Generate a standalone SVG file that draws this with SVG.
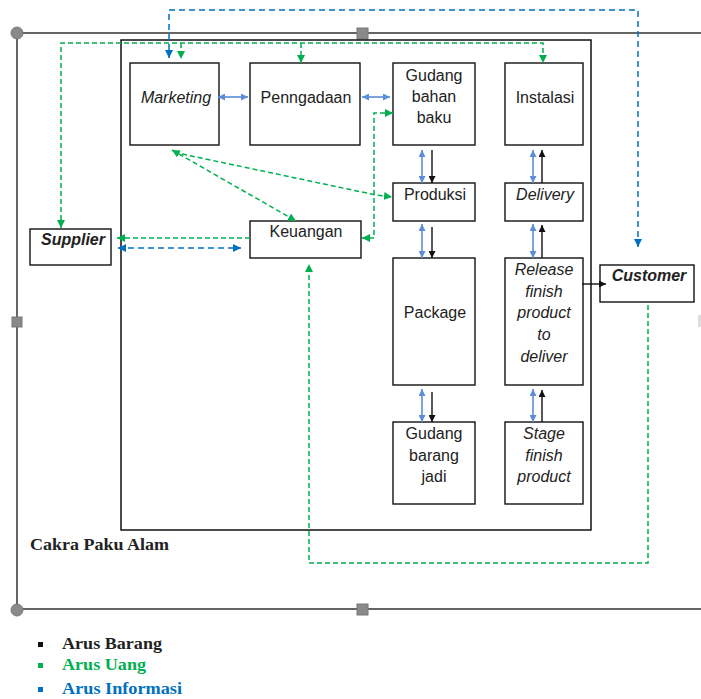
<svg xmlns="http://www.w3.org/2000/svg" width="701" height="699" viewBox="0 0 701 699">
<style>
.box{fill:#fff;stroke:#111;stroke-width:1.4}
.frame{fill:none;stroke:#333;stroke-width:1.5}
.t{font-family:"Liberation Sans",Arial,sans-serif;font-size:16px;fill:#222;text-anchor:middle}
.i{font-style:italic}
.b{font-weight:bold}
.g{fill:none;stroke:#00B050;stroke-width:1.5;stroke-dasharray:5 3}
.bd{fill:none;stroke:#0070C0;stroke-width:1.5;stroke-dasharray:6 4}
.lb{fill:none;stroke:#5B8ED6;stroke-width:1.6}
.k{fill:none;stroke:#111;stroke-width:1.4}
.leg{font-family:"Liberation Serif","Times New Roman",serif;font-size:17px;font-weight:bold}
.h{fill:#8a8a8a;stroke:#777;stroke-width:1}
</style>
<defs>
<marker id="mG" viewBox="0 0 10 10" refX="10" refY="5" markerUnits="userSpaceOnUse" markerWidth="8" markerHeight="8" orient="auto-start-reverse"><path d="M0,0 L10,5 L0,10 z" fill="#00B050"/></marker>
<marker id="mB" viewBox="0 0 10 10" refX="10" refY="5" markerUnits="userSpaceOnUse" markerWidth="8" markerHeight="8" orient="auto-start-reverse"><path d="M0,0 L10,5 L0,10 z" fill="#0070C0"/></marker>
<marker id="mL" viewBox="0 0 10 10" refX="10" refY="5" markerUnits="userSpaceOnUse" markerWidth="7" markerHeight="7" orient="auto-start-reverse"><path d="M0,0 L10,5 L0,10 z" fill="#5B8ED6"/></marker>
<marker id="mK" viewBox="0 0 10 10" refX="10" refY="5" markerUnits="userSpaceOnUse" markerWidth="7" markerHeight="7" orient="auto-start-reverse"><path d="M0,0 L10,5 L0,10 z" fill="#111"/></marker>
</defs>
<rect width="701" height="699" fill="#fff"/>
<g id="outer-frame">
<path class="frame" d="M701,33 H17 V609 H701"/>
<circle class="h" cx="17" cy="33" r="6"/>
<circle class="h" cx="17" cy="610" r="6"/>
<rect class="h" x="357" y="28" width="11" height="11"/>
<rect class="h" x="357" y="604" width="11" height="11"/>
<rect class="h" x="12" y="317" width="10" height="10"/>
<rect x="698" y="315" width="4" height="12" fill="#ddd"/>
</g>
<g id="inner-frame"><rect x="121" y="40" width="470" height="490" fill="none" stroke="#111" stroke-width="1.5"/></g>
<g id="marketing"><rect class="box" x="130" y="63" width="89" height="82"/><text class="t i" x="176" y="102.5">Marketing</text></g>
<g id="penngadaan"><rect class="box" x="250" y="63" width="110" height="82"/><text class="t" x="306" y="102.5">Penngadaan</text></g>
<g id="gudang-bahan-baku"><rect class="box" x="393" y="63" width="82" height="82"/><text class="t" x="434"><tspan x="434" y="80.5">Gudang</tspan><tspan x="434" y="102">bahan</tspan><tspan x="434" y="123">baku</tspan></text></g>
<g id="instalasi"><rect class="box" x="505" y="63" width="78" height="82"/><text class="t" x="545" y="102.5">Instalasi</text></g>
<g id="produksi"><rect class="box" x="393" y="183" width="82" height="38"/><text class="t" x="435" y="199.5">Produksi</text></g>
<g id="delivery"><rect class="box" x="505" y="183" width="78" height="38"/><text class="t i" x="545" y="199.5">Delivery</text></g>
<g id="keuangan"><rect class="box" x="250" y="221" width="111" height="37"/><text class="t" x="306" y="236.5">Keuangan</text></g>
<g id="supplier"><rect class="box" x="30" y="229" width="81" height="36"/><text class="t i b" x="73" y="245">Supplier</text></g>
<g id="customer"><rect class="box" x="600" y="265" width="94" height="37"/><text class="t i b" x="649" y="281">Customer</text></g>
<g id="package"><rect class="box" x="393" y="258" width="82" height="127"/><text class="t" x="435" y="318">Package</text></g>
<g id="release"><rect class="box" x="505" y="258" width="78" height="127"/><text class="t i" x="544"><tspan x="544" y="274.5">Release</tspan><tspan x="544" y="296.5">finish</tspan><tspan x="544" y="318">product</tspan><tspan x="544" y="340">to</tspan><tspan x="544" y="362">deliver</tspan></text></g>
<g id="gudang-barang-jadi"><rect class="box" x="393" y="422" width="82" height="82"/><text class="t" x="434"><tspan x="434" y="438.5">Gudang</tspan><tspan x="434" y="460.5">barang</tspan><tspan x="434" y="482">jadi</tspan></text></g>
<g id="stage"><rect class="box" x="505" y="422" width="78" height="82"/><text class="t i" x="544"><tspan x="544" y="438.5">Stage</tspan><tspan x="544" y="460.5">finish</tspan><tspan x="544" y="482">product</tspan></text></g>
<g id="connectors">
<path class="bd" d="M638,247 V10 H169 V58" marker-end="url(#mB)"/>
<path class="bd" d="M638,240 V247" marker-end="url(#mB)"/>
<line class="bd" x1="118" y1="248" x2="241" y2="248" marker-start="url(#mB)" marker-end="url(#mB)"/>
<path class="g" d="M61,228 V43 H543 V63" marker-start="url(#mG)" marker-end="url(#mG)"/>
<line class="g" x1="181" y1="43" x2="181" y2="59" marker-end="url(#mG)"/>
<line class="g" x1="301" y1="43" x2="301" y2="63" marker-end="url(#mG)"/>
<line class="g" x1="250" y1="238" x2="117" y2="238" marker-end="url(#mG)"/>
<line class="g" x1="172" y1="150" x2="296" y2="221" marker-start="url(#mG)" marker-end="url(#mG)"/>
<path class="g" d="M182,154 L376,195 L392,197" marker-end="url(#mG)"/>
<path class="g" d="M393,113 H374 V238 H362" marker-start="url(#mG)" marker-end="url(#mG)"/>
<path class="g" d="M648,305 V563 H309 V264" marker-end="url(#mG)"/>
<line class="lb" x1="218" y1="97" x2="248" y2="97" marker-start="url(#mL)" marker-end="url(#mL)"/>
<line class="lb" x1="362" y1="97" x2="390" y2="97" marker-start="url(#mL)" marker-end="url(#mL)"/>
<line class="lb" x1="422" y1="150" x2="422" y2="183" marker-start="url(#mL)" marker-end="url(#mL)"/>
<line class="lb" x1="422" y1="224" x2="422" y2="258" marker-start="url(#mL)" marker-end="url(#mL)"/>
<line class="lb" x1="422" y1="389" x2="422" y2="422" marker-start="url(#mL)" marker-end="url(#mL)"/>
<line class="lb" x1="533" y1="150" x2="533" y2="183" marker-start="url(#mL)" marker-end="url(#mL)"/>
<line class="lb" x1="533" y1="224" x2="533" y2="258" marker-start="url(#mL)" marker-end="url(#mL)"/>
<line class="lb" x1="533" y1="389" x2="533" y2="422" marker-start="url(#mL)" marker-end="url(#mL)"/>
<line class="k" x1="432" y1="150" x2="432" y2="183" marker-end="url(#mK)"/>
<line class="k" x1="432" y1="227" x2="432" y2="258" marker-end="url(#mK)"/>
<line class="k" x1="432" y1="392" x2="432" y2="422" marker-end="url(#mK)"/>
<line class="k" x1="542" y1="183" x2="542" y2="150" marker-end="url(#mK)"/>
<line class="k" x1="542" y1="258" x2="542" y2="225" marker-end="url(#mK)"/>
<line class="k" x1="542" y1="422" x2="542" y2="390" marker-end="url(#mK)"/>
<line class="k" x1="582" y1="284" x2="606" y2="284" marker-end="url(#mK)"/>
</g>
<g id="label"><text class="leg" x="30" y="550" fill="#222" textLength="139" lengthAdjust="spacingAndGlyphs">Cakra Paku Alam</text></g>
<g id="legend">
<rect x="38" y="642" width="5" height="5" fill="#111"/>
<rect x="38" y="663" width="5" height="5" fill="#00B050"/>
<rect x="38" y="687" width="5" height="5" fill="#0070C0"/>
<text class="leg" x="62" y="649" fill="#222" textLength="100" lengthAdjust="spacingAndGlyphs">Arus Barang</text>
<text class="leg" x="62" y="670" fill="#00B050" textLength="84" lengthAdjust="spacingAndGlyphs">Arus Uang</text>
<text class="leg" x="62" y="694" fill="#0070C0" textLength="120" lengthAdjust="spacingAndGlyphs">Arus Informasi</text>
</g>
</svg>
